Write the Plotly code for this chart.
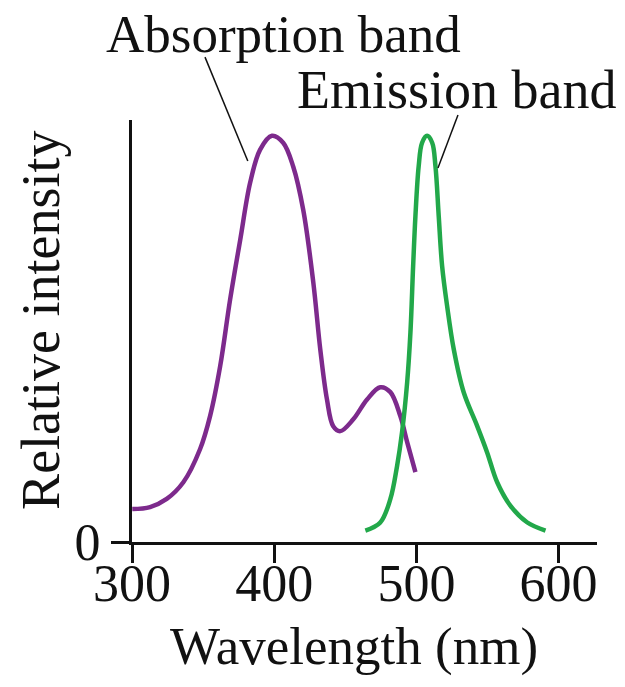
import plotly.graph_objects as go

# absorption band (purple)
abs_nm = [300.2, 312.7, 324.4, 336.1, 347.9, 354.9, 362.0, 369.0, 376.1, 383.1, 390.1, 398.4,
          406.3, 413.4, 420.4, 427.5, 432.4, 437.1, 441.5, 446.5, 455.6, 465.3, 474.6, 481.7,
          488.7, 493.5, 499.3]
abs_int = [0.081, 0.086, 0.106, 0.147, 0.229, 0.310, 0.433, 0.597, 0.744, 0.885, 0.966, 1.0,
           0.983, 0.924, 0.818, 0.639, 0.474, 0.351, 0.285, 0.273, 0.302, 0.351, 0.381, 0.369,
           0.310, 0.246, 0.172]

# emission band (green)
em_nm = [464.1, 474.6, 481.7, 486.4, 489.9, 493.5, 495.8, 497.7, 499.3, 501.6, 504.0, 507.5,
         511.1, 513.4, 515.7, 518.1, 521.6, 526.3, 533.3, 542.7, 549.8, 556.8, 566.2, 578.0, 590.8]
em_int = [0.028, 0.048, 0.106, 0.187, 0.270, 0.393, 0.516, 0.679, 0.802, 0.925, 0.983, 1.0,
          0.983, 0.925, 0.802, 0.679, 0.581, 0.474, 0.368, 0.286, 0.220, 0.147, 0.089, 0.048, 0.028]

x_ticks = [300, 400, 500, 600]

FONT = "Liberation Serif, Times New Roman, serif"

fig = go.Figure()
fig.add_trace(go.Scatter(x=abs_nm, y=abs_int, mode="lines",
                         line=dict(color="#7d2a8c", width=4.5, shape="spline", smoothing=1)))
fig.add_trace(go.Scatter(x=em_nm, y=em_int, mode="lines",
                         line=dict(color="#22a84a", width=4.5, shape="spline", smoothing=1)))

# page body has an 8px margin, so the figure is 8px smaller each way
fig.update_layout(
    width=617, height=679,
    margin=dict(l=124, r=28, t=112, b=145),
    plot_bgcolor="white", paper_bgcolor="white",
    showlegend=False,
    font=dict(family=FONT, size=52, color="#111"),
)
fig.update_xaxes(range=[300, 627], tickvals=x_ticks, ticks="outside", ticklen=18, tickwidth=3,
                 tickcolor="#111", showline=True, linecolor="#111", linewidth=3,
                 showgrid=False, zeroline=False, tickfont=dict(size=52, family=FONT),
                 ticklabelstandoff=-24)
fig.update_yaxes(range=[0, 1.039], tickvals=[0], ticktext=["0"], ticks="outside", ticklen=18,
                 tickwidth=3, tickcolor="#111", showline=True, linecolor="#111", linewidth=3,
                 showgrid=False, zeroline=False, tickfont=dict(size=52, family=FONT))

# axis titles and band labels
fig.add_annotation(text="Relative intensity", xref="paper", yref="paper", x=-0.196, y=0.526,
                   textangle=-90, showarrow=False, xanchor="center", yanchor="middle",
                   font=dict(size=54, family=FONT))
fig.add_annotation(text="Wavelength (nm)", xref="paper", yref="paper", x=0.477, y=-0.248,
                   showarrow=False, xanchor="center", yanchor="middle",
                   font=dict(size=53, family=FONT))
fig.add_annotation(text="Absorption band", xref="paper", yref="paper", x=0.325, y=1.203,
                   showarrow=False, xanchor="center", yanchor="middle",
                   font=dict(size=53, family=FONT))
fig.add_annotation(text="Emission band", xref="paper", yref="paper", x=0.698, y=1.07,
                   showarrow=False, xanchor="center", yanchor="middle",
                   font=dict(size=54, family=FONT))

# leader lines
fig.add_shape(type="line", xref="paper", yref="paper", x0=0.157, y0=1.149, x1=0.249, y1=0.903,
              line=dict(color="#111", width=1.5))
fig.add_shape(type="line", xref="paper", yref="paper", x0=0.701, y0=1.012, x1=0.658, y1=0.886,
              line=dict(color="#111", width=1.5))

fig.write_html("out.html")
